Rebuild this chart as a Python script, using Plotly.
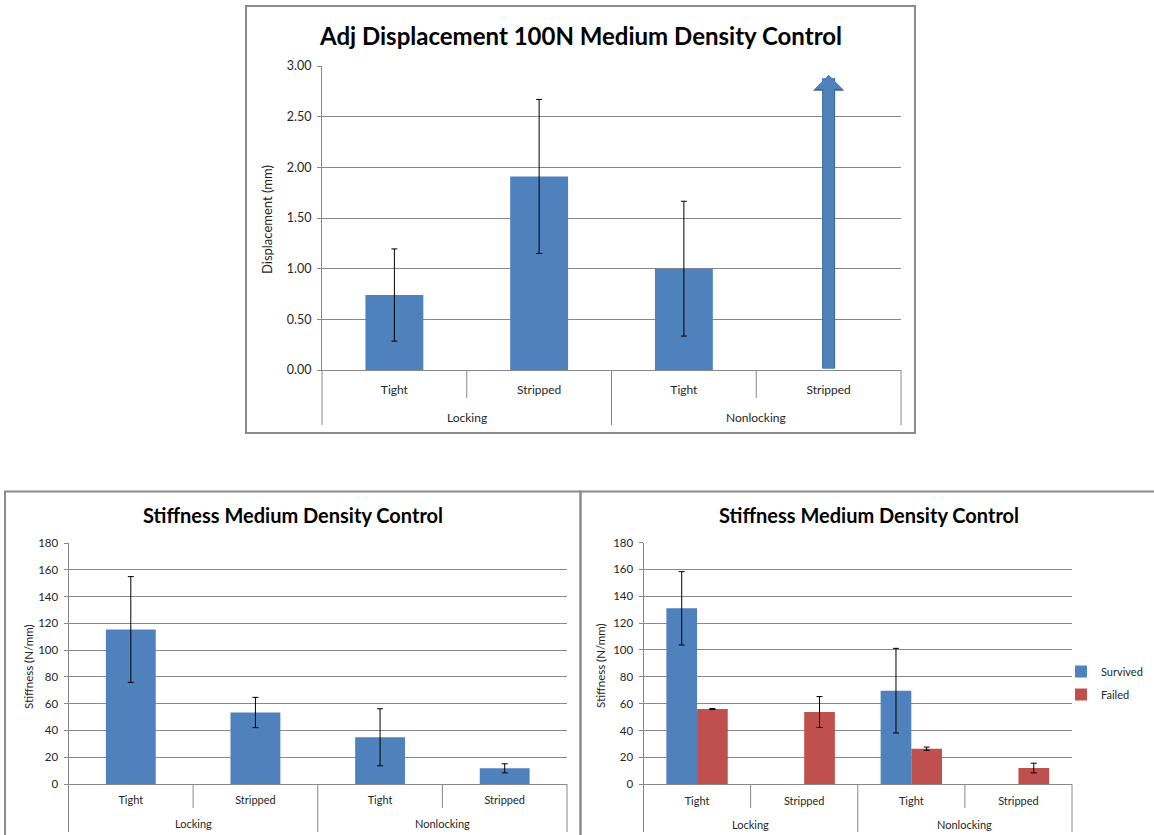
import plotly.graph_objects as go

W, H = 1154, 835

# ---------------- data ----------------
sub_labels = ["Tight", "Stripped", "Tight", "Stripped"]
group_labels = ["Locking", "Nonlocking"]

# Adj displacement 100N (mm)
disp_mean = [0.74, 1.91, 1.00, None]
disp_err = [0.455, 0.76, 0.665, None]
disp_arrow_top = 2.91          # Nonlocking / Stripped: off-scale arrow

# Stiffness (N/mm), all specimens
stiff_mean = [115.4, 53.4, 34.9, 11.7]
stiff_err = [39.5, 11.3, 21.3, 3.4]

# Stiffness (N/mm), split by outcome
surv_mean = [131.0, None, 69.7, None]
surv_err = [27.3, None, 31.5, None]
fail_mean = [56.0, 53.8, 26.5, 12.1]
fail_err = [0.4, 11.5, 1.2, 3.6]

title_top = "Adj Displacement 100N Medium Density Control"
title_bottom = "Stiffness Medium Density Control"
ytitle_top = "Displacement (mm)"
ytitle_bottom = "Stiffness (N/mm)"
series_names = ["Survived", "Failed"]

# ---------------- style ----------------
BLUE = "#4f81bd"
RED = "#c0504d"
GRID = "#888888"
FRAME = "#8a8a8a"
TXT = "#262626"
FONT = "Lato"


def px(x):
    return x / W


def py(y):
    return 1 - y / H


xs = list(range(len(sub_labels)))
fig = go.Figure()

# ---------------- traces ----------------
err_style = dict(type="data", symmetric=True, color="black", thickness=1, width=3)

fig.add_trace(go.Bar(x=xs, y=disp_mean, width=0.4, marker=dict(color=BLUE, line=dict(width=0)),
                     error_y=dict(array=disp_err, **err_style), showlegend=False,
                     xaxis="x", yaxis="y"))
fig.add_trace(go.Bar(x=xs, y=stiff_mean, width=0.4, marker=dict(color=BLUE, line=dict(width=0)),
                     error_y=dict(array=stiff_err, **err_style), showlegend=False,
                     xaxis="x2", yaxis="y2"))
fig.add_trace(go.Bar(x=xs, y=surv_mean, name=series_names[0], legendgroup="s",
                     marker=dict(color=BLUE, line=dict(width=0)),
                     error_y=dict(array=surv_err, **err_style), xaxis="x3", yaxis="y3"))
fig.add_trace(go.Bar(x=xs, y=fail_mean, name=series_names[1], legendgroup="f",
                     marker=dict(color=RED, line=dict(width=0)),
                     error_y=dict(array=fail_err, **err_style), xaxis="x3", yaxis="y3"))

# ---------------- axes ----------------
panels = [
    # (suffix, x-left, x-right, y-top, y-bottom, yrange, dtick, fmt, xtickfont, ytickfont,
    #  x-label standoff, sep_short_bottom, sep_long_bottom, group_label_y)
    ("", 322, 901, 66, 370, [0, 3], 0.5, ".2f", 12, 12.5, 9, 398, 425, 417),
    ("2", 68.5, 567, 543, 784, [0, 180], 20, "d", 11, 11.5, 6, 808, 832, 823.5),
    ("3", 643.5, 1072, 542.5, 784.3, [0, 180], 20, "d", 11, 11.5, 6, 808, 832, 824.3),
]

shapes = []
annotations = []
for suf, xl, xr, yt, yb, yr, dt, fmt, xtf, ytf, xso, s_short, s_long, gy in panels:
    xa = dict(domain=[px(xl), px(xr)], range=[-0.5, len(xs) - 0.5], anchor="y" + suf,
              tickmode="array", tickvals=xs, ticktext=sub_labels, ticks="",
              showline=True, linecolor=GRID, linewidth=1, showgrid=False, zeroline=False,
              tickfont=dict(family=FONT, size=xtf, color=TXT), ticklabelstandoff=xso,
              automargin=False, fixedrange=True)
    ya = dict(domain=[py(yb), py(yt)], range=yr, anchor="x" + suf, dtick=dt, tick0=0,
              tickformat=fmt, showline=True, linecolor=GRID, linewidth=1,
              showgrid=True, gridcolor=GRID, gridwidth=1, zeroline=False,
              ticks="outside", ticklen=4, tickcolor=GRID, ticklabelstandoff=3,
              tickfont=dict(family=FONT, size=ytf, color=TXT),
              automargin=False, fixedrange=True)
    fig.update_layout(**{"xaxis" + suf: xa, "yaxis" + suf: ya})

    xd = "x" + suf + " domain"
    n = len(xs)
    for k in range(n + 1):
        long_line = (k % 2 == 0)
        shapes.append(dict(type="line", xref=xd, yref="paper", x0=k / n, x1=k / n,
                           y0=py(yb), y1=py(s_long if long_line else s_short),
                           line=dict(color=GRID, width=1)))
    for g, lab in enumerate(group_labels):
        annotations.append(dict(xref=xd, yref="paper", x=(2 * g + 1) / 4, y=py(gy),
                                text=lab, showarrow=False, xanchor="center", yanchor="middle",
                                font=dict(family=FONT, size=xtf, color=TXT)))

# ---------------- arrow for off-scale value ----------------
arrow_x = xs[3]
annotations.append(dict(xref="x", yref="y", axref="x", ayref="y", x=arrow_x, y=disp_arrow_top,
                        ax=arrow_x, ay=0, text="", showarrow=True, arrowhead=1,
                        arrowwidth=13, arrowsize=0.40, arrowcolor="#3b6491"))
annotations.append(dict(xref="x", yref="y", axref="x", ayref="y", x=arrow_x, y=disp_arrow_top,
                        ax=arrow_x, ay=0, text="", showarrow=True, arrowhead=1,
                        arrowwidth=11, arrowsize=0.42, arrowcolor=BLUE))

# ---------------- titles ----------------
annotations.append(dict(xref="paper", yref="paper", x=px(580), y=py(35), text=title_top,
                        showarrow=False, xanchor="center", yanchor="middle",
                        font=dict(family=FONT, size=24, color="black", weight="bold")))
annotations.append(dict(xref="paper", yref="paper", x=px(293), y=py(515), text=title_bottom,
                        showarrow=False, xanchor="center", yanchor="middle",
                        font=dict(family=FONT, size=20, color="black", weight="bold")))
annotations.append(dict(xref="paper", yref="paper", x=px(869), y=py(515), text=title_bottom,
                        showarrow=False, xanchor="center", yanchor="middle",
                        font=dict(family=FONT, size=20, color="black", weight="bold")))
for (x, y, t, s) in [(267, 220, ytitle_top, 13), (28, 667, ytitle_bottom, 11.5),
                     (600, 666, ytitle_bottom, 11.5)]:
    annotations.append(dict(xref="paper", yref="paper", x=px(x), y=py(y), text=t,
                            textangle=-90, showarrow=False, xanchor="center", yanchor="middle",
                            font=dict(family=FONT, size=s, color=TXT)))

# ---------------- chart frames ----------------
for (x0, y0, x1, y1) in [(246, 6, 915, 433), (5, 491.5, 580.5, 845), (580.5, 491.5, 1165, 845)]:
    shapes.append(dict(type="rect", xref="paper", yref="paper", x0=px(x0), x1=px(x1),
                       y0=py(y1), y1=py(y0), line=dict(color=FRAME, width=2),
                       fillcolor="rgba(0,0,0,0)", layer="below"))

fig.update_layout(
    width=W, height=H, margin=dict(l=0, r=0, t=0, b=0, pad=0, autoexpand=False),
    paper_bgcolor="white", plot_bgcolor="white",
    barmode="group", bargap=0.427, bargroupgap=0,
    shapes=shapes, annotations=annotations,
    showlegend=True,
    legend=dict(x=px(1061), y=py(683), xanchor="left", yanchor="middle",
                font=dict(family=FONT, size=11, color=TXT), tracegroupgap=4,
                bgcolor="rgba(0,0,0,0)"),
)

fig.write_html("out.html", config={"displayModeBar": False},
               post_script="document.body.style.margin='0px';document.body.style.overflow='hidden';")
